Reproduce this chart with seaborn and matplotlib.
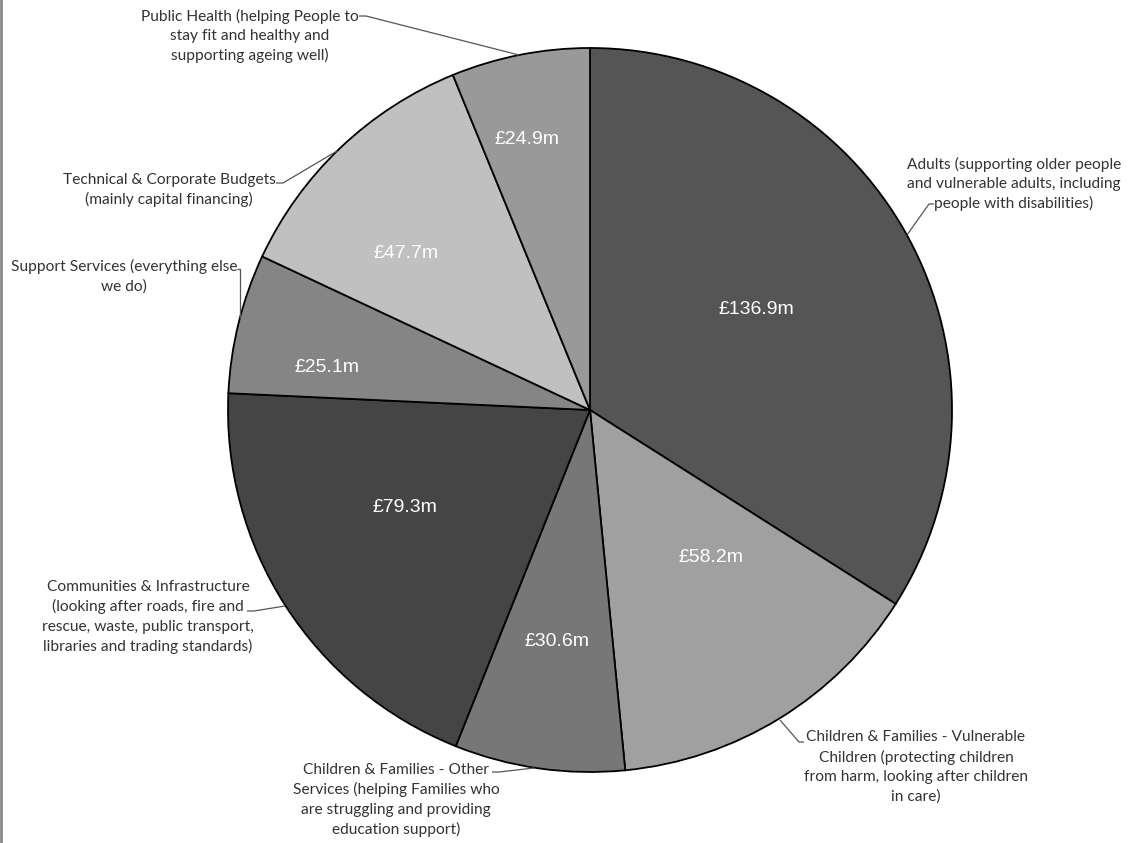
import matplotlib
matplotlib.use("Agg")
import matplotlib.pyplot as plt
import seaborn as sns

sns.set_theme(style="white")
plt.rcParams['font.family'] = ['Lato', 'DejaVu Sans']

# ---- data ----
categories = [
    "Adults (supporting older people\nand vulnerable adults, including\npeople with disabilities)",
    "Children & Families - Vulnerable\nChildren (protecting children\nfrom harm, looking after children\nin care)",
    "Children & Families - Other\nServices (helping Families who\nare struggling and providing\neducation support)",
    "Communities & Infrastructure\n(looking after roads, fire and\nrescue, waste, public transport,\nlibraries and trading standards)",
    "Support Services (everything else\nwe do)",
    "Technical & Corporate Budgets\n(mainly capital financing)",
    "Public Health (helping People to\nstay fit and healthy and\nsupporting ageing well)",
]
values = [136.9, 58.2, 30.6, 79.3, 25.1, 47.7, 24.9]
value_labels = ["£136.9m", "£58.2m", "£30.6m", "£79.3m", "£25.1m", "£47.7m", "£24.9m"]
colors = ["#555555", "#a0a0a0", "#777777", "#454545", "#858585", "#c0c0c0", "#999999"]

# ---- layout (pixel positions in the 1131x843 canvas) ----
W, H = 1131, 843
CX, CY, R = 590, 410, 362
value_pos = [(756, 310), (711, 558), (557, 642), (405, 508), (327, 367), (406, 253), (527, 139)]
label_pos = [(1014, 184), (916, 767), (396, 800), (148, 617), (124, 276), (169, 190), (250, 36)]
leaders = [
    [(934, 204), (929, 204), (907, 235)],
    [(804, 742), (799, 742), (780, 720)],
    [(492, 772), (499, 772), (534, 768)],
    [(247, 611), (254, 611), (285, 606)],
    [(237, 269), (240, 269), (240, 318)],
    [(276, 183), (283, 183), (337, 151)],
    [(359, 16), (366, 16), (519, 55)],
]

def to_data(p):
    return ((p[0] - CX) / R, (CY - p[1]) / R)

fig = plt.figure(figsize=(W / 100, H / 100), dpi=100)
fig.patch.set_facecolor("white")
ax = fig.add_axes([0, 0, 1, 1])

wedges, _ = ax.pie(values, colors=colors, startangle=90, counterclock=False,
                   radius=1.0, center=(0, 0),
                   wedgeprops=dict(edgecolor="black", linewidth=1.3))
ax.set_xlim(-CX / R, (W - CX) / R)
ax.set_ylim(-(H - CY) / R, CY / R)
ax.set_aspect("equal")
ax.axis("off")

for lab, p in zip(value_labels, value_pos):
    x, y = to_data(p)
    ax.text(x, y, lab, ha="center", va="center", color="white", fontsize=14,
            family=["Liberation Sans", "DejaVu Sans"])

for lab, p in zip(categories, label_pos):
    x, y = to_data(p)
    ax.text(x, y, lab, ha="center", va="center", color="#333333", fontsize=11.2,
            linespacing=1.47)

for seg in leaders:
    pts = [to_data(q) for q in seg]
    ax.plot([q[0] for q in pts], [q[1] for q in pts], color="#555555", lw=0.9,
            solid_capstyle="butt")

# left frame line
fig.add_artist(plt.Line2D([0.001, 0.001], [0, 1], transform=fig.transFigure,
                          color="#888888", lw=2))

fig.savefig("out.png", dpi=100, facecolor="white")
